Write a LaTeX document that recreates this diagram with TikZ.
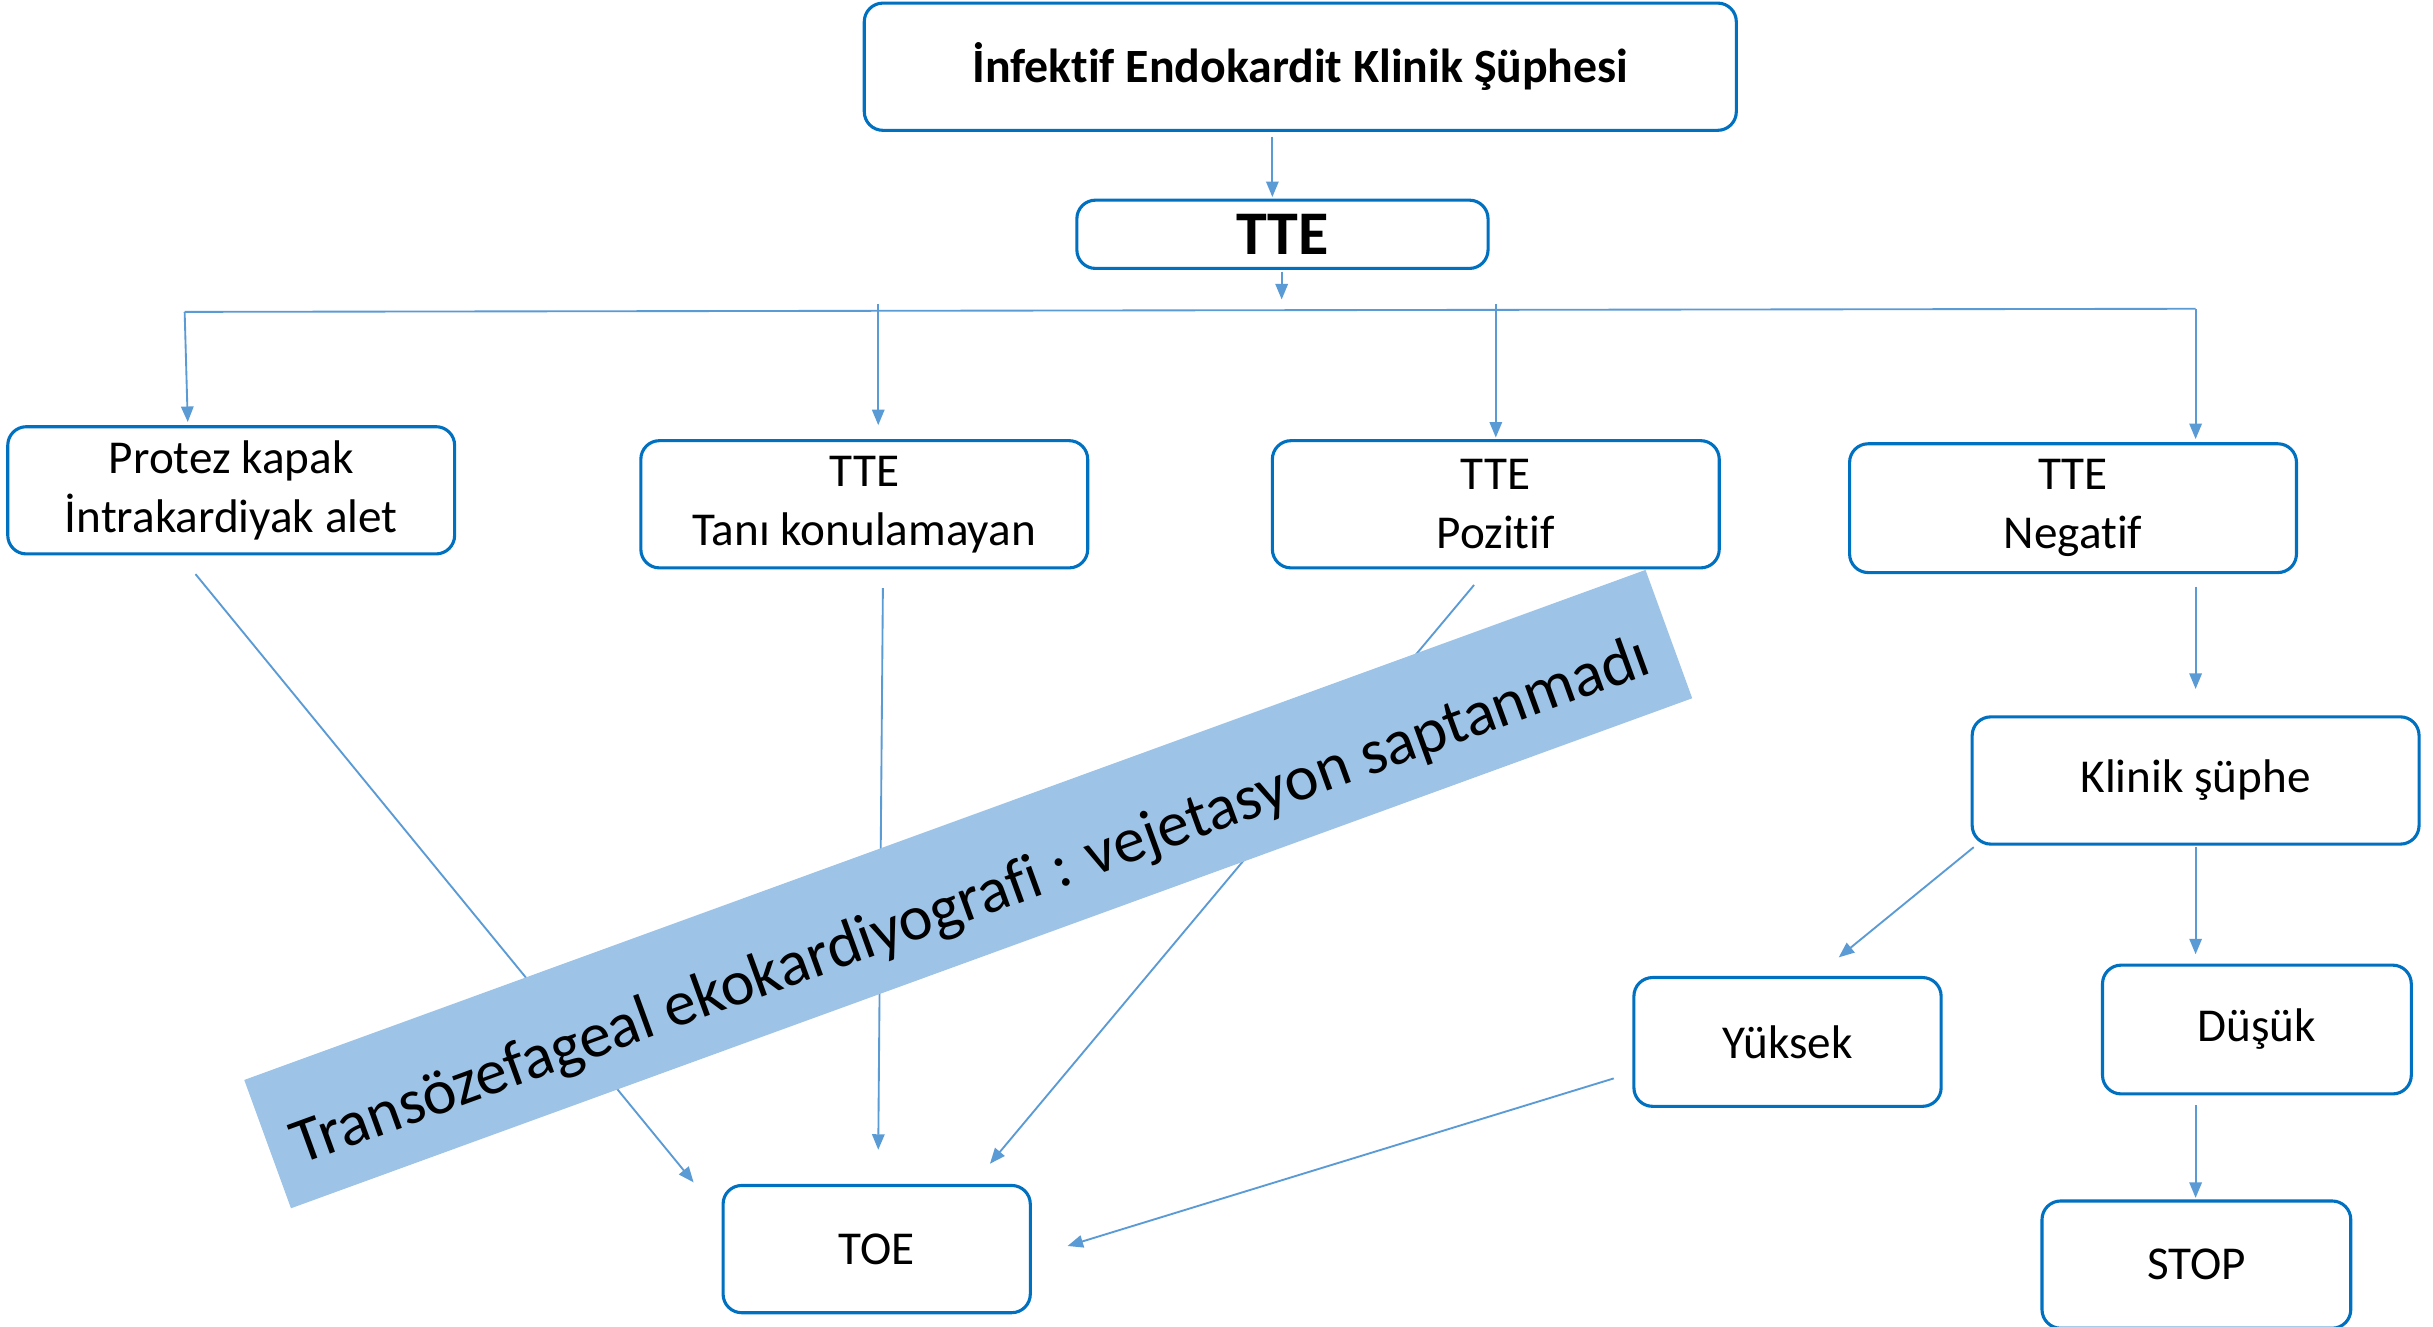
\documentclass[tikz,border=0pt]{standalone}
\usepackage{fontspec}
\setmainfont{Carlito}[RawFeature=-liga]
\usetikzlibrary{arrows.meta,calc}
\definecolor{boxblue}{HTML}{0070C0}
\definecolor{linblue}{HTML}{5B9BD5}
\definecolor{banblue}{HTML}{9DC3E6}
\begin{document}
\begin{tikzpicture}[x=0.5pt,y=-0.5pt,
 box/.style={draw=boxblue,line width=1pt,rounded corners=6pt,fill=white,inner sep=0pt,align=center,font=\fontsize{15.2}{19}\selectfont},
 conn/.style={draw=linblue,line width=0.6pt,-{Triangle[length=5pt,width=4pt]}},
 busline/.style={draw=linblue,line width=0.6pt}]
\useasboundingbox (0,0) rectangle (1568,855);
\fill[white] (0,0) rectangle (1568,855);

% connector end points
\coordinate (a1) at (820,88);   \coordinate (a2) at (820,127);
\coordinate (b1) at (826,175);  \coordinate (b2) at (826,193);
\coordinate (busL) at (119,201); \coordinate (busR) at (1415,199);
\coordinate (p1) at (121,272);
\coordinate (t0) at (566,196);  \coordinate (t1) at (566,274);
\coordinate (z0) at (964,196);  \coordinate (z1) at (964,282);
\coordinate (n1) at (1415,283);
\coordinate (k0) at (1415,378); \coordinate (k1) at (1415,444);
\coordinate (y0) at (1272,546); \coordinate (y1) at (1185,617);
\coordinate (d0) at (1415,546); \coordinate (d1) at (1415,615);
\coordinate (s0) at (1415,712); \coordinate (s1) at (1415,772);
\coordinate (yt0) at (1040,695); \coordinate (yt1) at (688,803);
\coordinate (pt0) at (126,370); \coordinate (pt1) at (447,762);
\coordinate (tt0) at (569,379); \coordinate (tt1) at (566,741);
\coordinate (zt0) at (950,377); \coordinate (zt1) at (638,750);

\draw[conn] (a1) -- (a2);
\draw[conn] (b1) -- (b2);
\draw[busline] (busL) -- (busR);
\draw[conn] (busL) -- (p1);
\draw[conn] (t0) -- (t1);
\draw[conn] (z0) -- (z1);
\draw[conn] (busR) -- (n1);
\draw[conn] (k0) -- (k1);
\draw[conn] (y0) -- (y1);
\draw[conn] (d0) -- (d1);
\draw[conn] (s0) -- (s1);
\draw[conn] (yt0) -- (yt1);
\draw[conn] (pt0) -- (pt1);
\draw[conn] (tt0) -- (tt1);
\draw[conn] (zt0) -- (zt1);

% banner
\node[fill=banblue,rotate=20,minimum width=480.5pt,minimum height=44pt,inner sep=0pt] (banner) at (624,573) {};
\node[rotate=20,inner sep=0pt,font=\fontsize{20.6}{24}\selectfont] (bannertext) at (626,582)
  {Transözefageal ekokardiyografi : vejetasyon saptanmadı};

% boxes
\node[box,minimum width=281pt,minimum height=41pt,font=\fontsize{15.4}{18.5}\selectfont\bfseries] (top) at (838,43) {İnfektif Endokardit Klinik Şüphesi};
\node[box,minimum width=132.5pt,minimum height=22pt,font=\fontsize{20}{24}\selectfont\bfseries] (tte) at (826.5,151) {TTE};
\node[box,minimum width=144pt,minimum height=41pt] (protez) at (149,316) {Protez kapak\\İntrakardiyak alet};
\node[box,minimum width=144pt,minimum height=41pt] (tani) at (557,325) {TTE\\Tanı konulamayan};
\node[box,minimum width=144pt,minimum height=41pt] (poz) at (964,325) {TTE\\Pozitif};
\node[box,minimum width=144pt,minimum height=41.5pt] (neg) at (1336,327.5) {TTE\\Negatif};
\node[box,minimum width=144pt,minimum height=41pt] (klinik) at (1415,503) {Klinik şüphe};
\node[box,minimum width=99pt,minimum height=41.5pt] (yuksek) at (1152,671.5) {Yüksek};
\node[box,minimum width=99.5pt,minimum height=41.5pt] (dusuk) at (1454.5,663.5) {Düşük};
\node[box,minimum width=99pt,minimum height=41pt] (toe) at (565,805) {TOE};
\node[box,minimum width=99.5pt,minimum height=41pt] (stop) at (1415.5,815) {STOP};
\end{tikzpicture}
\end{document}
